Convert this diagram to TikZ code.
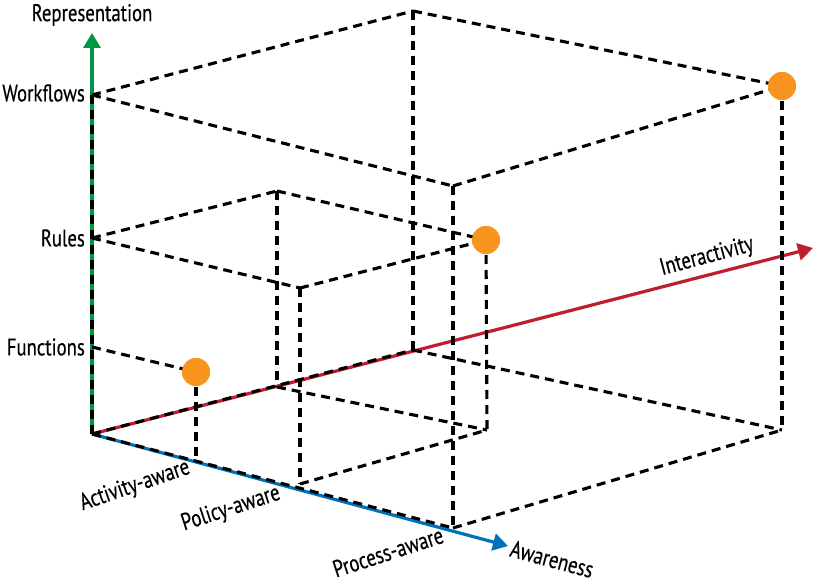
\documentclass[tikz,border=0pt]{standalone}
\usepackage{fontspec}
\setmainfont{PT Sans}[FakeStretch=0.78, FakeBold=0.4]
\usepackage{xcolor}
\usepackage{tikz}
\usetikzlibrary{arrows.meta}

\definecolor{axisgreen}{RGB}{0,150,70}
\definecolor{axisred}{RGB}{190,30,45}
\definecolor{axisblue}{RGB}{0,114,188}
\definecolor{dotorange}{RGB}{247,148,30}

\begin{document}
\begin{tikzpicture}[x=1pt, y=-1pt]
            \tikzstyle{boxline} = [draw=black, line width=3.1pt, dash pattern=on 9pt off 6pt]
            \tikzstyle{axisline} = [line width=3.2pt, -{Triangle[length=15pt, width=17pt]}]
            \tikzstyle{axistext} = [font=\fontsize{24}{28}\selectfont, inner sep=1pt]
            \tikzstyle{blob} = [circle, fill=dotorange, minimum size=28pt, inner sep=0pt]

            \useasboundingbox (0,0) rectangle (813,585);

            \coordinate (O) at (92,434);
            \coordinate (Rtip) at (92,33);
            \coordinate (Atip) at (508,546);
            \coordinate (Itip) at (813,248);

            \coordinate (W) at (92,95);
            \coordinate (R) at (92,238);
            \coordinate (F) at (92,347);

            \coordinate (Act) at (196,458);
            \coordinate (Pol) at (300,484);
            \coordinate (Pro) at (453,528);

            \coordinate (RI) at (277,191);
            \coordinate (RP) at (300,288);
            \coordinate (I2) at (277,387);
            \coordinate (PI2) at (487,430);

            \coordinate (WI) at (413,11);
            \coordinate (WP) at (453,186);
            \coordinate (I3) at (413,350);
            \coordinate (PI3) at (782,430);

            \draw [axisline, axisgreen] (O) to (Rtip);
            \draw [axisline, axisblue] (O) to (Atip);
            \draw [axisline, axisred] (O) to (Itip);

            \node [blob] (D1) at (196,372) {};
            \node [blob] (D2) at (486,240) {};
            \node [blob] (D3) at (782,86) {};

            \draw [boxline] (O) to (W);
            \draw [boxline] (O) to (Pro);
            \draw [boxline] (O) to (I3);

            \draw [boxline] (F) to (D1.center);
            \draw [boxline] (D1.center) to (Act);

            \draw [boxline] (R) to (RI);
            \draw [boxline] (R) to (RP);
            \draw [boxline] (RI) to (D2.center);
            \draw [boxline] (RP) to (D2.center);
            \draw [boxline] (RI) to (I2);
            \draw [boxline] (RP) to (Pol);
            \draw [boxline] (D2.center) to (PI2);
            \draw [boxline] (I2) to (PI2);
            \draw [boxline] (Pol) to (PI2);

            \draw [boxline] (W) to (WI);
            \draw [boxline] (W) to (WP);
            \draw [boxline] (WI) to (D3.center);
            \draw [boxline] (WP) to (D3.center);
            \draw [boxline] (WI) to (I3);
            \draw [boxline] (WP) to (Pro);
            \draw [boxline] (D3.center) to (PI3);
            \draw [boxline] (I3) to (PI3);
            \draw [boxline] (Pro) to (PI3);

            \node [blob] at (D1) {};
            \node [blob] at (D2) {};
            \node [blob] at (D3) {};

            \node [axistext] (Trep) at (92,15) {Representation};
            \node [axistext, anchor=east] (Twork) at (86,93) {Workflows};
            \node [axistext, anchor=east] (Trule) at (86,238) {Rules};
            \node [axistext, anchor=east] (Tfunc) at (86,347) {Functions};

            \node [axistext, rotate=19] (Tact) at (135,486) {Activity-aware};
            \node [axistext, rotate=18] (Tpol) at (231,509) {Policy-aware};
            \node [axistext, rotate=18] (Tpro) at (388,552) {Process-aware};
            \node [axistext, rotate=-15] (Taware) at (552,559) {Awareness};
            \node [axistext, rotate=15] (Tinter) at (707,257) {Interactivity};
        \end{tikzpicture}
\end{document}
